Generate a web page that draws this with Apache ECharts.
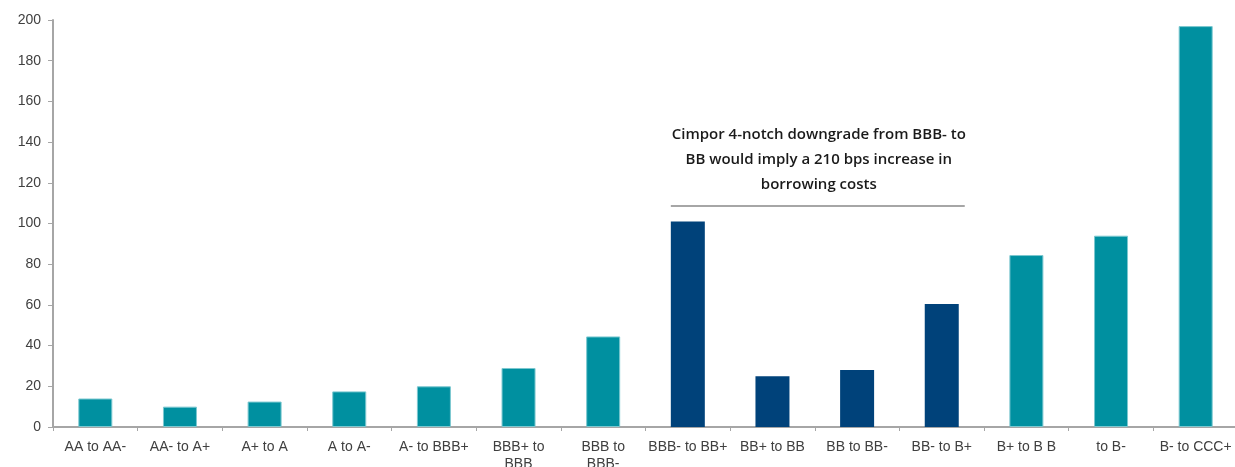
<!DOCTYPE html>
<html>
<head>
<meta charset="utf-8">
<script src="https://cdn.jsdelivr.net/npm/echarts@6/dist/echarts.min.js"></script>
<style>
html,body{margin:0;padding:0;background:#fff;width:100%;height:100%;overflow:hidden;}
#chart{width:100vw;height:100vh;}
</style>
</head>
<body>
<div id="chart"></div>
<script>
const categories = ['AA to AA-','AA- to A+','A+ to A','A to A-','A- to BBB+','BBB+ to\nBBB','BBB to\nBBB-','BBB- to BB+','BB+ to BB','BB to BB-','BB- to B+','B+ to B B','to B-','B- to CCC+'];
const spreadValues = [14, 10, 12.5, 17.5, 20, 29, 44.5, 101, 25, 28, 60.5, 84.5, 94, 197];
const highlighted = [false,false,false,false,false,false,false,true,true,true,true,false,false,false];
const yTicks = {min: 0, max: 200, interval: 20};
const annotationText = 'Cimpor 4-notch downgrade from BBB- to\nBB would imply a 210 bps increase in\nborrowing costs';
const annotationLevel = 108.6;
const annotationFrom = 7, annotationTo = 10;

const TEAL = '#0090A0', NAVY = '#00427A';
const chart = echarts.init(document.getElementById('chart'), null, {renderer:'canvas'});
const barData = spreadValues.map((v,i) => ({
  value: v,
  itemStyle: highlighted[i] ? {color: NAVY, borderWidth: 0} : {color: TEAL, borderColor: '#7cc8d0', borderWidth: 1}
}));
chart.setOption({
  animation: false,
  grid: {left: 53, right: -3, top: 20, bottom: 40, containLabel: false, outerBoundsMode: 'none'},
  xAxis: {
    type: 'category',
    data: categories,
    axisLine: {lineStyle: {color: '#A6A6A6', width: 2}},
    axisTick: {show: true, alignWithLabel: false, length: 4, lineStyle: {color: '#A6A6A6', width: 1}},
    axisLabel: {color: '#404040', fontFamily: 'Liberation Sans', fontSize: 14, margin: 12, interval: 0, lineHeight: 17}
  },
  yAxis: {
    type: 'value',
    min: yTicks.min, max: yTicks.max, interval: yTicks.interval,
    axisLine: {show: true, lineStyle: {color: '#A6A6A6', width: 2}},
    axisTick: {show: true, length: 5, lineStyle: {color: '#A6A6A6', width: 1}},
    splitLine: {show: false},
    axisLabel: {color: '#404040', fontFamily: 'Liberation Sans', fontSize: 14, margin: 12}
  },
  series: [{
    type: 'bar',
    data: barData,
    barWidth: 34
  }]
});
const x0 = chart.convertToPixel({xAxisIndex: 0}, annotationFrom) - 17;
const x1 = chart.convertToPixel({xAxisIndex: 0}, annotationTo) + 23;
const yl = chart.convertToPixel({yAxisIndex: 0}, annotationLevel);
chart.setOption({
  graphic: [
    {type: 'line', shape: {x1: x0, y1: yl, x2: x1, y2: yl}, style: {stroke: '#A6A6A6', lineWidth: 2}},
    {type: 'text', x: (x0 + x1) / 2 + 1, y: yl - 84,
     style: {text: annotationText, fill: '#1a1a1a', font: '600 15px "Open Sans"', align: 'center', verticalAlign: 'top', lineHeight: 25}}
  ]
});
</script>
</body>
</html>
